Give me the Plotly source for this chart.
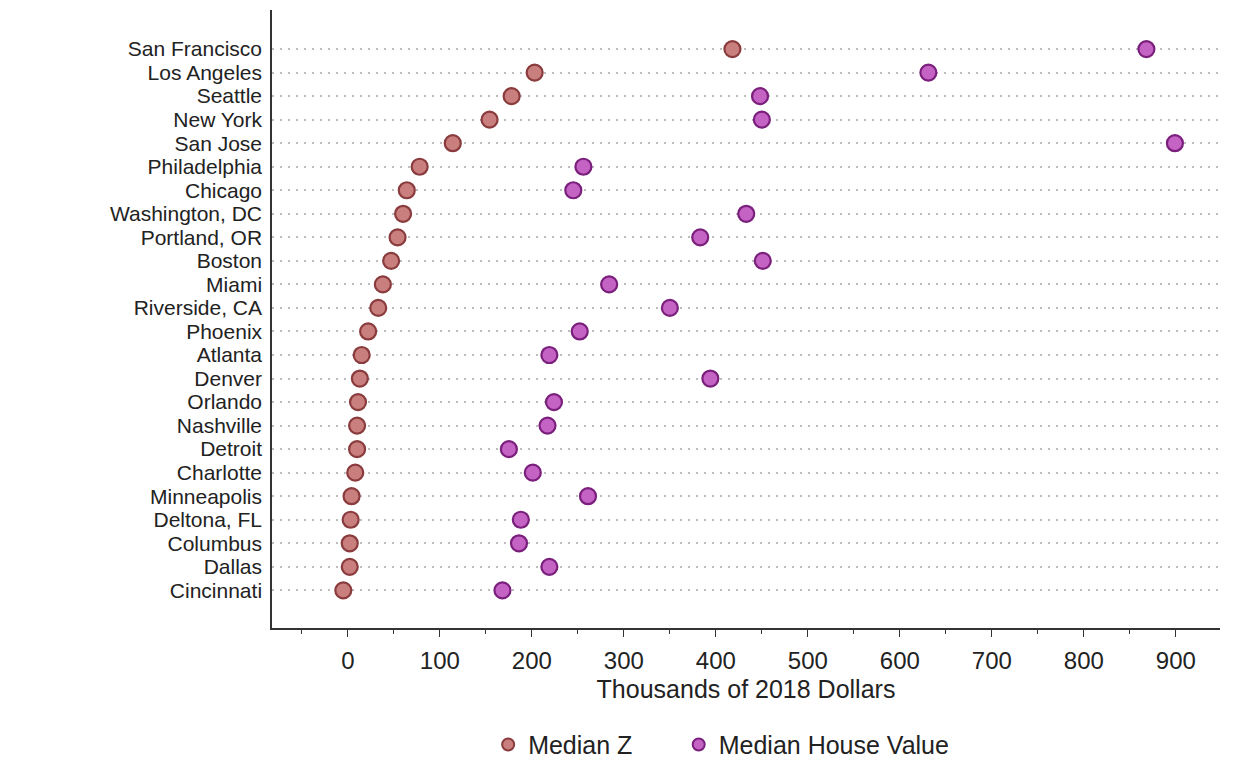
import plotly.graph_objects as go

cities = ["San Francisco", "Los Angeles", "Seattle", "New York", "San Jose", "Philadelphia",
          "Chicago", "Washington, DC", "Portland, OR", "Boston", "Miami", "Riverside, CA",
          "Phoenix", "Atlanta", "Denver", "Orlando", "Nashville", "Detroit", "Charlotte",
          "Minneapolis", "Deltona, FL", "Columbus", "Dallas", "Cincinnati"]
median_z = [418, 203, 178, 154, 114, 78, 64, 60, 54, 47, 38, 33, 22, 15, 13, 11, 10, 10, 8,
            4, 3, 2, 2, -5]
median_house = [868, 631, 448, 450, 899, 256, 245, 433, 383, 451, 284, 350, 252, 219, 394,
                224, 217, 175, 201, 261, 188, 186, 219, 168]
x_ticks = [0, 100, 200, 300, 400, 500, 600, 700, 800, 900]

fig = go.Figure()
fig.add_trace(go.Scatter(
    x=median_z, y=cities, mode="markers", name="Median Z", legend="legend",
    marker=dict(size=16, color="#c97f7d", line=dict(color="#8a3b3d", width=2.2))))
fig.add_trace(go.Scatter(
    x=median_house, y=cities, mode="markers", name="Median House Value", legend="legend2",
    marker=dict(size=16, color="#c463c4", line=dict(color="#7a1f7c", width=2.2))))

font = "Liberation Sans, Arial, sans-serif"
leg_common = dict(orientation="h", y=-0.189, yanchor="middle", xanchor="left",
                  font=dict(size=25), itemsizing="constant", itemwidth=30,
                  bgcolor="rgba(0,0,0,0)")
fig.update_layout(
    width=1235, height=759,
    paper_bgcolor="white", plot_bgcolor="white",
    margin=dict(l=264, r=23, t=2, b=139, autoexpand=False),
    font=dict(family=font, size=25, color="#222"),
    showlegend=True,
    legend=dict(x=0.228, **leg_common),
    legend2=dict(x=0.429, **leg_common),
    xaxis=dict(
        range=[-82.5, 948], tickvals=x_ticks, ticks="outside", ticklen=7, tickwidth=1.3,
        tickcolor="#333", showline=True, linecolor="#333", linewidth=1.5, showgrid=False,
        zeroline=False, tickfont=dict(size=24), ticklabelstandoff=3, automargin=False,
        minor=dict(tickvals=[-50, 50, 150, 250, 350, 450, 550, 650, 750, 850],
                   ticks="outside", ticklen=4, tickcolor="#333", showgrid=False),
        title=dict(text="Thousands of 2018 Dollars", font=dict(size=25), standoff=8)),
    yaxis=dict(
        categoryorder="array", categoryarray=cities, tickmode="array", tickvals=cities,
        ticktext=cities, automargin=False,
        range=[24.6, -1.66], autorange=False, showline=True, linecolor="#333", linewidth=1.5,
        ticks="", showgrid=True, gridcolor="#bdbdbd", griddash="2px,6px", gridwidth=2,
        zeroline=False, tickfont=dict(size=21), ticklabelstandoff=4),
)
fig.write_html("out.html")
